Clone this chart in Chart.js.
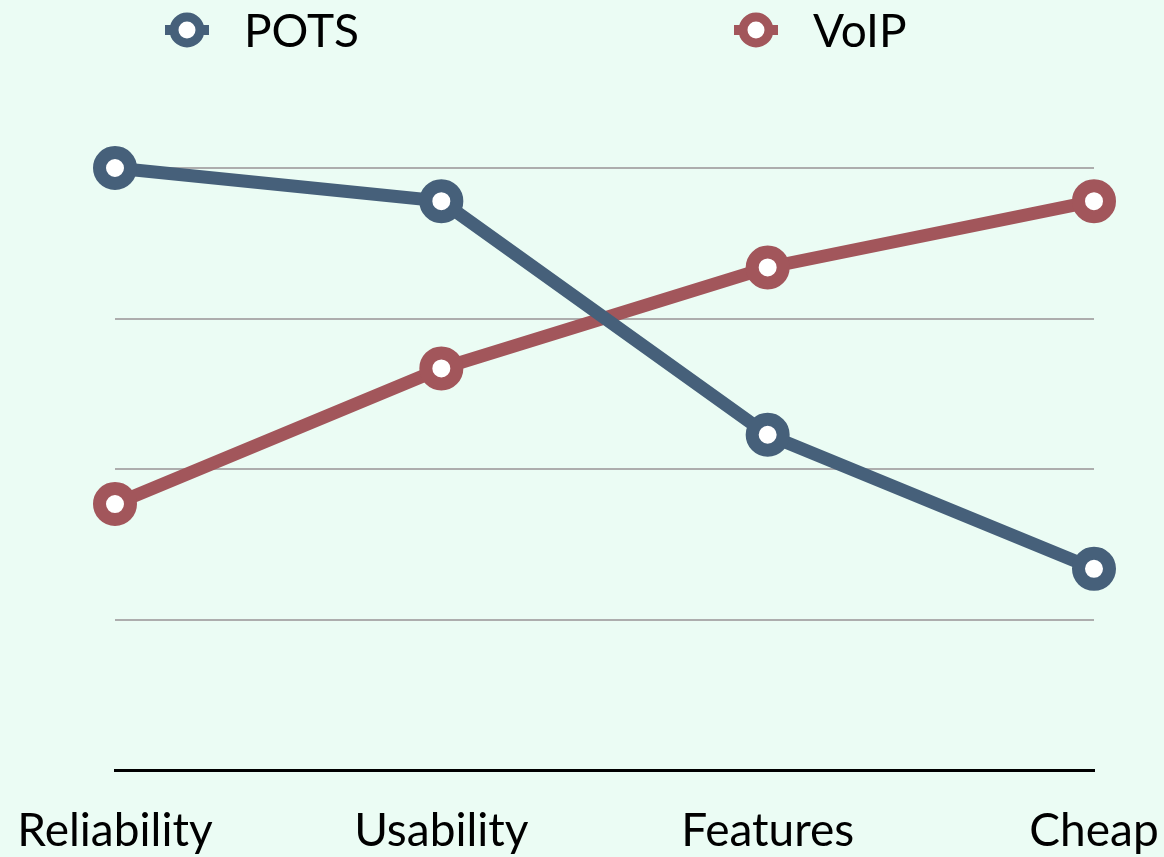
<!DOCTYPE html>
<html>
<head>
<meta charset="utf-8">
<script src="https://cdn.jsdelivr.net/npm/chart.js@4/dist/chart.umd.min.js"></script>
<style>
  html, body { margin: 0; padding: 0; background: #ebfcf4; }
  #wrap { width: 1164px; height: 857px; }
</style>
</head>
<body>
<div id="wrap"><canvas id="chart"></canvas></div>
<script>
// categories along the x axis
const categories = ["Reliability", "Usability", "Features", "Cheap"];
// series values (0..4 scale)
const potsValues = [4.0, 3.78, 2.23, 1.34];
const voipValues = [1.77, 2.67, 3.34, 3.78];
const seriesNames = ["POTS", "VoIP"];

const potsColor = "#46607a";
const voipColor = "#a2565b";
const fontFamily = "Lato, 'Open Sans', sans-serif";

// legend drawn as line stub + ring, like the original
const ringLegend = {
    id: "ringLegend",
    afterDraw(chart) {
        const ctx = chart.ctx;
        const centers = [187, 756];
        const y = 30;
        ctx.save();
        chart.data.datasets.forEach((ds, i) => {
            const cx = centers[i];
            ctx.strokeStyle = ds.borderColor;
            ctx.lineWidth = 10;
            ctx.beginPath();
            ctx.moveTo(cx - 22, y);
            ctx.lineTo(cx + 22, y);
            ctx.stroke();
            ctx.beginPath();
            ctx.arc(cx, y, 13, 0, Math.PI * 2);
            ctx.fillStyle = "#ffffff";
            ctx.fill();
            ctx.lineWidth = 9;
            ctx.stroke();
            ctx.fillStyle = "#000000";
            ctx.font = "46px " + fontFamily;
            ctx.textBaseline = "middle";
            ctx.textAlign = "left";
            ctx.fillText(ds.label, cx + 57, y + 2);
        });
        ctx.restore();
    }
};

new Chart(document.getElementById("chart"), {
    type: "line",
    plugins: [ringLegend],
    data: {
        labels: categories,
        datasets: [
            {
                label: seriesNames[0],
                data: potsValues,
                borderColor: potsColor,
                pointBorderColor: potsColor,
                pointBackgroundColor: "#ffffff",
                borderWidth: 13,
                pointRadius: 15.5,
                pointBorderWidth: 13,
                clip: false,
            },
            {
                label: seriesNames[1],
                data: voipValues,
                borderColor: voipColor,
                pointBorderColor: voipColor,
                pointBackgroundColor: "#ffffff",
                borderWidth: 13,
                pointRadius: 15.5,
                pointBorderWidth: 13,
                clip: false,
            },
        ],
    },
    options: {
        responsive: true,
        maintainAspectRatio: false,
        animation: false,
        layout: { padding: { left: 115, right: 70, top: 168, bottom: -35 } },
        plugins: {
            legend: { display: false },
            tooltip: { enabled: false },
        },
        scales: {
            x: {
                grid: { display: false, drawTicks: false },
                border: { display: true, color: "#000000", width: 3 },
                ticks: {
                    color: "#000000",
                    font: { family: fontFamily, size: 46 },
                    padding: 33,
                    maxRotation: 0,
                },
                afterFit(scale) {
                    scale.paddingLeft = 0;
                    scale.paddingRight = 0;
                },
            },
            y: {
                min: 0,
                max: 4,
                ticks: { display: false, stepSize: 1 },
                border: { display: false },
                grid: { color: "#adadad", lineWidth: 2, drawTicks: false },
                afterFit(scale) {
                    scale.width = 0;
                },
            },
        },
    },
});
</script>
</body>
</html>
